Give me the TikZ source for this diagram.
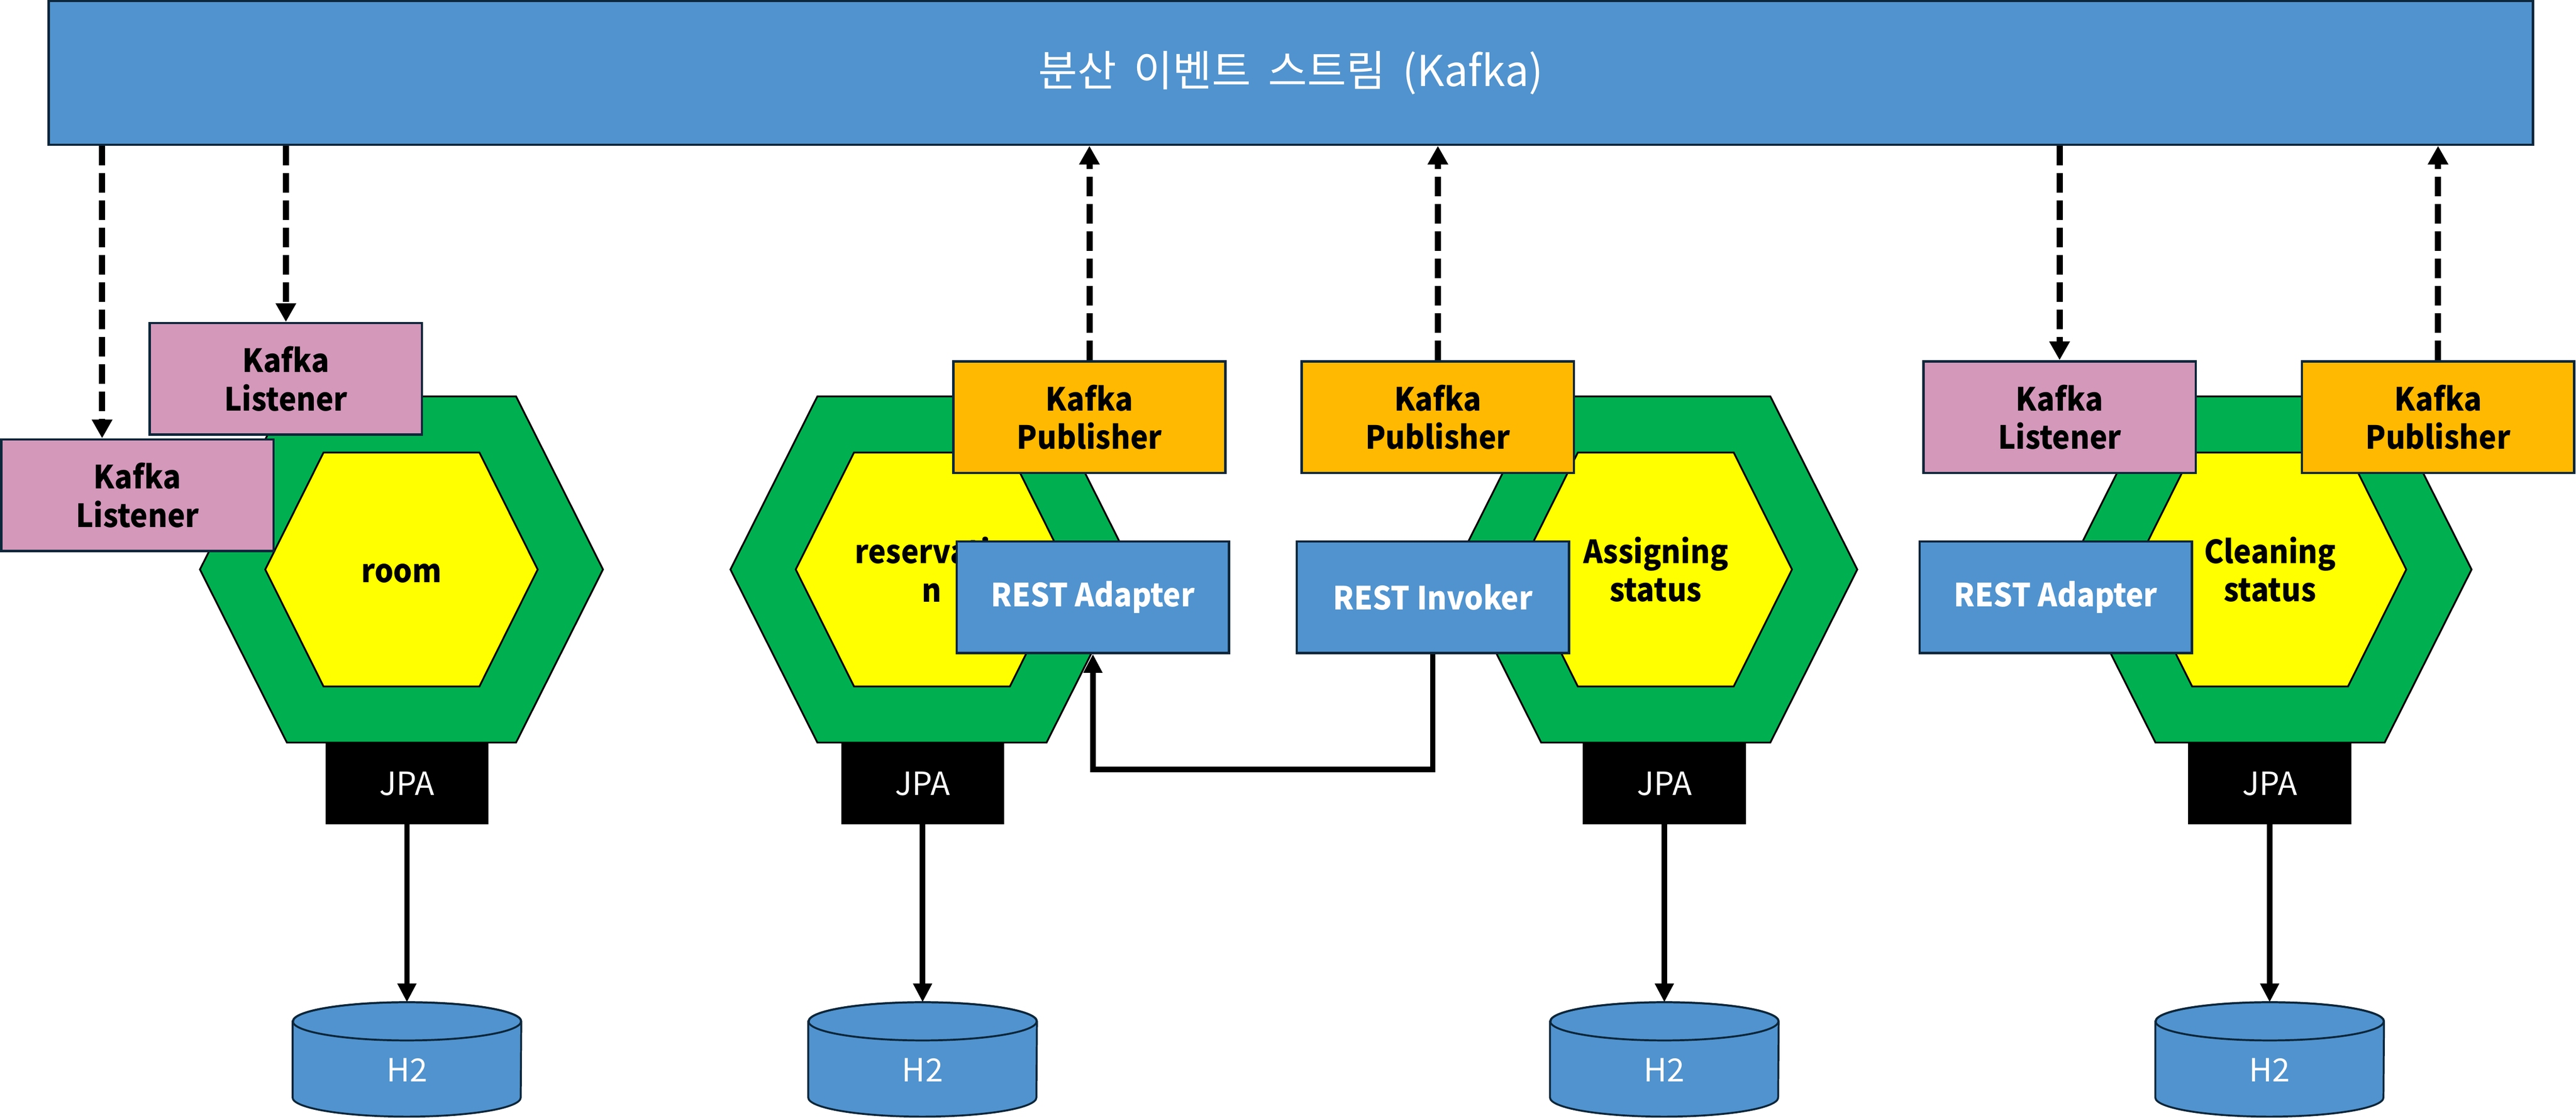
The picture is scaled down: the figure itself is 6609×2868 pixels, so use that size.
\documentclass[tikz,border=0pt]{standalone}
\usepackage{fontspec}
\setmainfont{Noto Sans CJK KR}[WordSpace=1.8]
\newfontfamily\lblfont{Noto Sans CJK KR}[FakeStretch=0.93]
\usetikzlibrary{arrows.meta,calc}
\definecolor{kblue}{RGB}{80,147,206}
\definecolor{knavy}{RGB}{12,38,58}
\definecolor{kpink}{RGB}{211,152,186}
\definecolor{korange}{RGB}{255,185,0}
\definecolor{kgreen}{RGB}{0,176,80}
\definecolor{kyellow}{RGB}{255,255,0}
\newcommand{\hexcell}[5]{%
  \begin{scope}[shift={(#2,#3)}]
    \path[hexouter] (-294,-444) -- (294,-444) -- (517,0) -- (294,444) -- (-294,444) -- (-517,0) -- cycle;
    \path[hexinner] (-200,-300) -- (200,-300) -- (349.5,0) -- (200,300) -- (-200,300) -- (-349.5,0) -- cycle;
    \node[hexlbl] (#1) at (0,#5) {#4};
  \end{scope}}
\newcommand{\dbcyl}[1]{%
  \path[dbfill] ([yshift=-0.49cm]#1.north west) -- ([yshift=0.49cm]#1.south west)
    arc[start angle=180,end angle=360,x radius=2.925cm,y radius=0.49cm]
    -- ([yshift=-0.49cm]#1.north east)
    arc[start angle=0,end angle=180,x radius=2.925cm,y radius=0.49cm] -- cycle;
  \draw[dbline] ([yshift=-0.49cm]#1.north) ellipse[x radius=2.925cm,y radius=0.49cm];}
\begin{document}
\begin{tikzpicture}[x=0.01cm,y=-0.01cm,
  lbl/.style={font=\lblfont\bfseries\fontsize{23.3}{28}\selectfont},
  box/.style={lbl,draw=knavy,line width=1.7pt,minimum width=6.98cm,minimum height=2.86cm,inner sep=0pt,align=center},
  listener/.style={box,fill=kpink},
  publisher/.style={box,fill=korange},
  rest/.style={box,fill=kblue,text=white},
  hexlbl/.style={lbl,align=center},
  hexouter/.style={fill=kgreen,draw=black,line width=1.3pt},
  hexinner/.style={fill=kyellow,draw=black,line width=1.3pt},
  jpabox/.style={fill=black,text=white,minimum width=4.18cm,minimum height=2.09cm,inner sep=0pt,font=\fontsize{23.3}{28}\selectfont},
  dbnode/.style={minimum width=5.85cm,minimum height=2.92cm,inner sep=0pt},
  dbfill/.style={fill=kblue,draw=knavy,line width=1.4pt},
  dbline/.style={draw=knavy,line width=1.4pt},
  dbtext/.style={text=white,inner sep=0pt,font=\fontsize{23.3}{28}\selectfont},
  event/.style={line width=4.5pt,dash pattern=on 0.5cm off 0.2cm,-{Triangle[width=0.5cm,length=0.48cm]}},
  dataflow/.style={line width=4pt,-{Triangle[width=0.46cm,length=0.48cm]}}
]
\useasboundingbox (0,0) rectangle (6609,2868);
% event stream bar
\node[draw=knavy,line width=1.7pt,fill=kblue,text=white,minimum width=63.7cm,minimum height=3.68cm,inner sep=0pt,
  font=\fontsize{31}{37}\selectfont] (bar) at (3312,187) {분산 이벤트 스트림 (Kafka)};
% hexagons
\hexcell{room}{1030}{1461}{room}{10}
\hexcell{resv}{2391}{1461}{reservatio\\n}{0}
\hexcell{assign}{4248}{1461}{Assigning\\status}{0}
\hexcell{clean}{5824}{1461}{Cleaning\\status}{0}
% JPA boxes
\node[jpabox] (jpa1) at (1044,2010) {JPA};
\node[jpabox] (jpa2) at (2367,2010) {JPA};
\node[jpabox] (jpa3) at (4270,2010) {JPA};
\node[jpabox] (jpa4) at (5823,2010) {JPA};
% databases
\foreach \n/\x in {db1/1044,db2/2367,db3/4270,db4/5823}{
  \node[dbnode] (\n) at (\x,2718) {};
  \dbcyl{\n}
  \node[dbtext] (\n t) at (\x,2745) {H2};
}
% adapters
\node[listener] (lA) at (733.5,972) {Kafka\\Listener};
\node[listener] (lB) at (352.5,1270.5) {Kafka\\Listener};
\node[publisher] (pub1) at (2795,1070) {Kafka\\Publisher};
\node[publisher] (pub2) at (3689,1070) {Kafka\\Publisher};
\node[listener] (lC) at (5284,1070) {Kafka\\Listener};
\node[publisher] (pubC) at (6255,1070) {Kafka\\Publisher};
\node[rest] (ra1) at (2804,1532) {REST Adapter};
\node[rest] (inv) at (3676,1532) {REST Invoker};
\node[rest] (raC) at (5274,1532) {REST Adapter};
% event arrows
\coordinate (lBin) at ([xshift=-0.905cm]lB.north);
\draw[event] (bar.south -| lBin) -- (lBin);
\draw[event] (bar.south -| lA.north) -- (lA.north);
\draw[event] (pub1.north) -- (pub1.north |- bar.south);
\draw[event] (pub2.north) -- (pub2.north |- bar.south);
\draw[event] (bar.south -| lC.north) -- (lC.north);
\draw[event] (pubC.north) -- (pubC.north |- bar.south);
% persistence
\draw[dataflow] (jpa1.south) -- (db1.north);
\draw[dataflow] (jpa2.south) -- (db2.north);
\draw[dataflow] (jpa3.south) -- (db3.north);
\draw[dataflow] (jpa4.south) -- (db4.north);
% REST call
\draw[dataflow] (inv.south) -- ++(0,296) -| (ra1.south);
\end{tikzpicture}
\end{document}
